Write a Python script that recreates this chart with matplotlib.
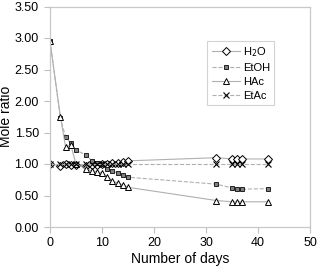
import matplotlib
matplotlib.use("Agg")
import matplotlib.pyplot as plt

plt.rcParams['font.family'] = ['Liberation Sans', 'DejaVu Sans']

days = [0, 2, 3, 4, 5, 7, 8, 9, 10, 11, 12, 13, 14, 15, 32, 35, 36, 37, 42]
h2o = [1.00, 0.97, 1.00, 0.99, 0.98, 0.97, 0.98, 0.99, 1.00, 1.00, 1.01, 1.02, 1.03, 1.05,
       1.10, 1.08, 1.08, 1.08, 1.08]
etoh = [2.95, 1.73, 1.43, 1.33, 1.22, 1.14, 1.05, 1.02, 1.00, 0.92, 0.89, 0.86, 0.83, 0.79,
        0.68, 0.62, 0.61, 0.60, 0.61]
hac = [2.95, 1.75, 1.27, 1.30, 1.00, 0.92, 0.89, 0.88, 0.86, 0.80, 0.73, 0.70, 0.67, 0.63,
       0.42, 0.40, 0.40, 0.40, 0.40]
etac = [1.00, 1.00, 1.00, 1.00, 1.00, 1.00, 1.00, 1.00, 1.00, 1.00, 1.00, 1.00, 1.00, 1.00,
        1.00, 1.00, 1.00, 1.00, 1.00]

fig = plt.figure(figsize=(3.18, 2.68), dpi=100)
ax = fig.add_axes([50/318, 41/268, 260/318, 220.5/268])

lc = '#b0b0b0'
ax.plot(days, h2o, '-', color=lc, lw=0.8, marker='D', ms=4, mfc='white', mec='black',
        mew=0.7, label='H$_2$O')
ax.plot(days, etoh, '--', color=lc, lw=0.8, marker='s', ms=3.5, mfc='#808080', mec='#202020',
        mew=0.7, label='EtOH')
ax.plot(days, hac, '-', color=lc, lw=0.8, marker='^', ms=5, mfc='white', mec='black',
        mew=0.7, label='HAc')
ax.plot(days, etac, '--', color=lc, lw=0.8, marker='x', ms=5, mec='black',
        mew=0.8, label='EtAc')

ax.set_xlim(0, 50)
ax.set_ylim(0, 3.5)
ax.set_xticks([0, 10, 20, 30, 40, 50])
ax.set_yticks([0, 0.5, 1.0, 1.5, 2.0, 2.5, 3.0, 3.5])
ax.set_yticklabels(['%.2f' % v for v in ax.get_yticks()])
ax.tick_params(labelsize=9, color='#c0c0c0', length=4, width=0.8)
ax.tick_params(axis='y', pad=4)
for s in ax.spines.values():
    s.set_color('#c8c8c8')
    s.set_linewidth(0.9)

ax.set_xlabel('Number of days', fontsize=10, labelpad=2)
ax.set_ylabel('Mole ratio', fontsize=10)
ax.yaxis.set_label_coords(-0.142, 0.5)

leg = ax.legend(loc='upper left', bbox_to_anchor=(0.605, 0.845), fontsize=8,
                frameon=True, fancybox=False, handlelength=2.5, handletextpad=0.3,
                borderpad=0.4, labelspacing=0.35, borderaxespad=0)
leg.get_frame().set_edgecolor('#c8c8c8')
leg.get_frame().set_linewidth(0.8)

fig.savefig('out.png', dpi=100)
